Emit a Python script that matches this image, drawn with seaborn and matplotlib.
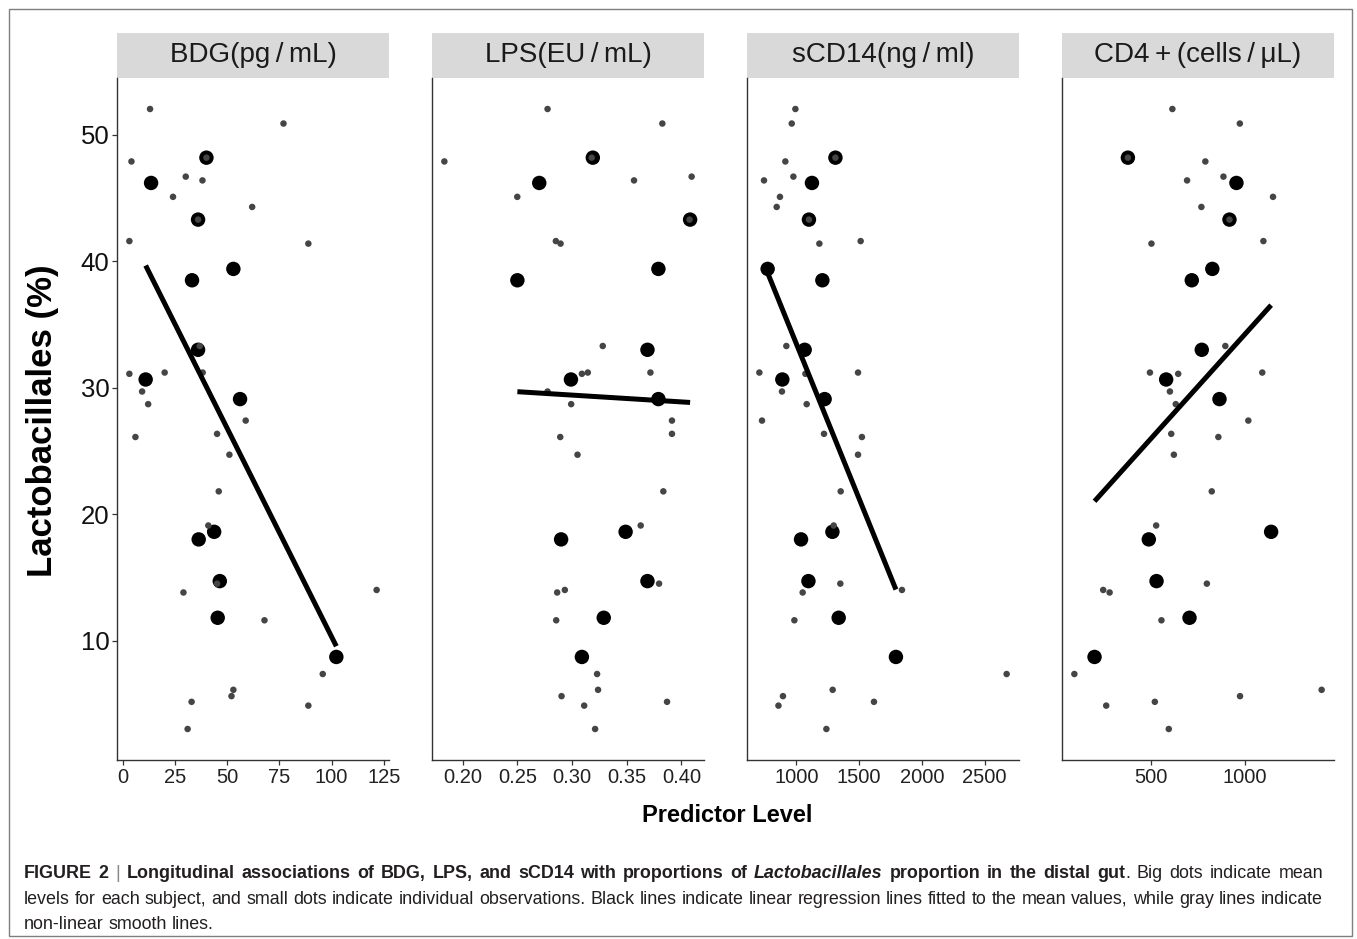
import numpy as np
import pandas as pd
import matplotlib
matplotlib.use("Agg")
import matplotlib.pyplot as plt
import seaborn as sns
from matplotlib.patches import Rectangle

# ---------------- data ----------------
panel_titles = ["BDG(pg\u2009/\u2009mL)", "LPS(EU\u2009/\u2009mL)",
                "sCD14(ng\u2009/\u2009ml)", "CD4\u2009+\u2009(cells\u2009/\u2009\u03bcL)"]

# subject mean Lactobacillales (%)
mean_y = [48.2, 46.2, 43.3, 39.4, 38.5, 33.0, 30.65, 29.1, 18.6, 18.0, 14.7, 11.8, 8.7]
bdg_mean_x = [40.1, 13.6, 36.1, 53.0, 33.2, 36.1, 11.0, 56.2, 43.8, 36.4, 46.5, 45.5, 102.3]
lps_mean_x = [0.319, 0.270, 0.408, 0.379, 0.250, 0.369, 0.299, 0.379, 0.349, 0.290, 0.369, 0.329, 0.309]
scd14_mean_x = [1311, 1124, 1100, 771, 1207, 1066, 888, 1225, 1287, 1037, 1096, 1337, 1793]
cd4_mean_x = [378, 954, 917, 826, 717, 770, 581, 864, 1138, 489, 530, 705, 201]

# individual observations
bdg_obs_x = [13.1, 77, 4.2, 30.2, 38.2, 24.1, 62, 3.2, 88.9, 3.2, 20.1, 38.3, 9.3, 12.2, 58.9,
             6.1, 45.2, 51.1, 46, 41, 45.2, 29.1, 67.9, 121.6, 95.8, 53, 52.1, 33, 88.9, 31.1,
             40.1, 36.1, 36.9]
bdg_obs_y = [52.05, 50.9, 47.9, 46.7, 46.4, 45.1, 44.3, 41.6, 41.4, 31.1, 31.2, 31.2, 29.7, 28.7, 27.4,
             26.1, 26.35, 24.7, 21.8, 19.1, 14.5, 13.8, 11.6, 14.0, 7.35, 6.1, 5.6, 5.15, 4.85, 3.0,
             48.2, 43.3, 33.3]

lps_obs_x = [0.2776, 0.3826, 0.1832, 0.3567, 0.4094, 0.2499, 0.2852, 0.2895, 0.3281, 0.309, 0.3144,
             0.3717, 0.2776, 0.2992, 0.3914, 0.3914, 0.2892, 0.305, 0.3835, 0.3628, 0.3796, 0.2864,
             0.2934, 0.2855, 0.3229, 0.3238, 0.2904, 0.3111, 0.3869, 0.3211, 0.318, 0.4075]
lps_obs_y = [52.05, 50.9, 47.9, 46.4, 46.7, 45.1, 41.6, 41.4, 33.3, 31.1, 31.2,
             31.2, 29.7, 28.7, 27.4, 26.35, 26.1, 24.7, 21.8, 19.1, 14.5, 13.8,
             14.0, 11.6, 7.35, 6.1, 5.6, 4.85, 5.15, 3.0, 48.2, 43.3]

scd14_obs_x = [992, 963, 912, 742, 976, 869, 843, 1183, 1512, 920, 705, 1072, 1491, 885, 1082,
               726, 1220, 1522, 1491, 1353, 1297, 1350, 1050, 1841, 984, 2675, 1289, 893, 1618,
               857, 1239, 1311, 1100]
scd14_obs_y = [52.05, 50.9, 47.9, 46.4, 46.7, 45.1, 44.3, 41.4, 41.6, 33.3, 31.2, 31.1, 31.2, 29.7, 28.7,
               27.4, 26.35, 26.1, 24.7, 21.8, 19.1, 14.5, 13.8, 14.0, 11.6, 7.35, 6.1, 5.6, 5.15,
               4.85, 3.0, 48.2, 43.3]

cd4_obs_x = [614, 972, 789, 692, 885, 1148, 768, 503, 1097, 895, 495, 645, 1091, 601, 632,
             1017, 608, 858, 622, 823, 528, 797, 247, 281, 556, 94, 1406, 973, 521, 263, 595,
             378, 917]
cd4_obs_y = [52.05, 50.9, 47.9, 46.4, 46.7, 45.1, 44.3, 41.4, 41.6, 33.3, 31.2, 31.1, 31.2, 29.7, 28.7,
             27.4, 26.35, 26.1, 24.7, 21.8, 19.1, 14.5, 14.0, 13.8, 11.6, 7.35, 6.1, 5.6, 5.15, 4.85, 3.0,
             48.2, 43.3]

y_ticks = [10, 20, 30, 40, 50]
x_ticks = [[0, 25, 50, 75, 100, 125],
           [0.20, 0.25, 0.30, 0.35, 0.40],
           [1000, 1500, 2000, 2500],
           [500, 1000]]
x_tick_labels = [["0", "25", "50", "75", "100", "125"],
                 ["0.20", "0.25", "0.30", "0.35", "0.40"],
                 ["1000", "1500", "2000", "2500"],
                 ["500", "1000"]]

means_x = [bdg_mean_x, lps_mean_x, scd14_mean_x, cd4_mean_x]
obs_x = [bdg_obs_x, lps_obs_x, scd14_obs_x, cd4_obs_x]
obs_y = [bdg_obs_y, lps_obs_y, scd14_obs_y, cd4_obs_y]

# ---------------- style ----------------
sns.set_theme(style="white")
plt.rcParams["font.family"] = ["Liberation Sans", "DejaVu Sans"]

W, H = 1357, 939
fig = plt.figure(figsize=(W / 100, H / 100), dpi=100)

def fx(px):
    return px / W

def fy(py):
    return 1 - py / H

ax_left = [117, 432, 747, 1062]
ax_w = 272
ax_top, ax_bot = 78, 760
strip_h = 45

all_y = bdg_obs_y + mean_y
y_lo, y_hi = min(all_y), max(all_y)
y_pad = 0.05 * (y_hi - y_lo)

for i in range(4):
    ax = fig.add_axes([fx(ax_left[i]), fy(ax_bot), ax_w / W, (ax_bot - ax_top) / H])
    dmean = pd.DataFrame({"x": means_x[i], "y": mean_y})
    dobs = pd.DataFrame({"x": obs_x[i], "y": obs_y[i]})
    sns.scatterplot(data=dmean, x="x", y="y", color="black", s=108, edgecolor="none",
                    linewidth=0, ax=ax, zorder=2)
    sns.scatterplot(data=dobs, x="x", y="y", color="#454545", s=22, edgecolor="none",
                    linewidth=0, ax=ax, zorder=3)
    sns.regplot(data=dmean, x="x", y="y", scatter=False, ci=None, color="black",
                line_kws=dict(lw=3.6, solid_capstyle="butt", zorder=4), ax=ax)

    allx = list(obs_x[i]) + list(means_x[i])
    lo, hi = min(allx), max(allx)
    pad = 0.05 * (hi - lo)
    ax.set_xlim(lo - pad, hi + pad)
    ax.set_ylim(y_lo - y_pad, y_hi + y_pad)
    ax.set_xlabel("")
    ax.set_ylabel("")
    ax.set_facecolor("white")
    for s in ["top", "right"]:
        ax.spines[s].set_visible(False)
    for s in ["left", "bottom"]:
        ax.spines[s].set_color("#333333")
        ax.spines[s].set_linewidth(1.0)
    ax.set_xticks(x_ticks[i])
    ax.set_xticklabels(x_tick_labels[i], fontsize=14.5, color="#222222")
    ax.tick_params(axis="x", bottom=True, length=3.5, width=0.9, color="#333333", pad=2)
    if i == 0:
        ax.set_yticks(y_ticks)
        ax.set_yticklabels([str(v) for v in y_ticks], fontsize=18.5, color="#111111")
        ax.tick_params(axis="y", left=True, length=3.5, width=0.9, color="#333333", pad=2)
    else:
        ax.set_yticks(y_ticks)
        ax.tick_params(axis="y", left=False, labelleft=False)
    ax.grid(False)

    # facet strip
    ax.add_patch(Rectangle((0, 1), 1, strip_h / (ax_bot - ax_top), transform=ax.transAxes,
                           facecolor="#d9d9d9", edgecolor="none", clip_on=False))
    ax.text(0.5, 1 + (strip_h / 2) / (ax_bot - ax_top), panel_titles[i], transform=ax.transAxes,
            ha="center", va="center", fontsize=20, color="#1a1a1a")

# axis titles
fig.text(fx(43), fy(421), "Lactobacillales (%)", rotation=90, fontsize=25, fontweight="bold",
         ha="center", va="center", color="black")
fig.text(fx(727), fy(815), "Predictor Level", fontsize=17, fontweight="bold",
         ha="center", va="center", color="black")

# outer frame
fig.add_artist(Rectangle((fx(9), fy(936)), (1352 - 9) / W, (936 - 9) / H, transform=fig.transFigure,
                         facecolor="none", edgecolor="#7f7f7f", lw=1.0))

# caption (justified lines)
renderer = fig.canvas.get_renderer()
cap_fs = 12.9
cap_col = "#231f20"
B = dict(fontweight="bold")
BI = dict(fontweight="bold", fontstyle="italic")
R = dict()
G = dict(color="#888888")

def seg_width(s, st):
    t = fig.text(0, 0, s, fontsize=cap_fs, **st)
    w = t.get_window_extent(renderer=renderer).width
    t.remove()
    return w

def draw_line(tokens, y, x0=24, x1=None):
    widths = [sum(seg_width(s, st) for s, st in tok) for tok in tokens]
    if x1 is None:
        gap = seg_width("x x", R) - seg_width("xx", R)
    else:
        gap = (x1 - x0 - sum(widths)) / (len(tokens) - 1)
    x = x0
    for tok, w in zip(tokens, widths):
        xx = x
        for s, st in tok:
            st = dict(st)
            col = st.pop("color", cap_col)
            t = fig.text(fx(xx), fy(y), s, fontsize=cap_fs, color=col, ha="left", va="baseline", **st)
            xx += t.get_window_extent(renderer=renderer).width
        x += w + gap

def words(text, st):
    return [[(w, st)] for w in text.split()]

line1 = (words("FIGURE 2", B) + [[("|", G)]]
         + words("Longitudinal associations of BDG, LPS, and sCD14 with proportions of", B)
         + [[("Lactobacillales", BI)]]
         + words("proportion in the distal", B)
         + [[("gut", B), (".", R)]]
         + words("Big dots indicate mean", R))
line2 = words("levels for each subject, and small dots indicate individual observations. Black lines indicate "
              "linear regression lines fitted to the mean values, while gray lines indicate", R)
line3 = words("non-linear smooth lines.", R)

draw_line(line1, 878, x1=1323)
draw_line(line2, 904, x1=1323)
draw_line(line3, 929)

fig.savefig("out.png", dpi=100, facecolor="white")
